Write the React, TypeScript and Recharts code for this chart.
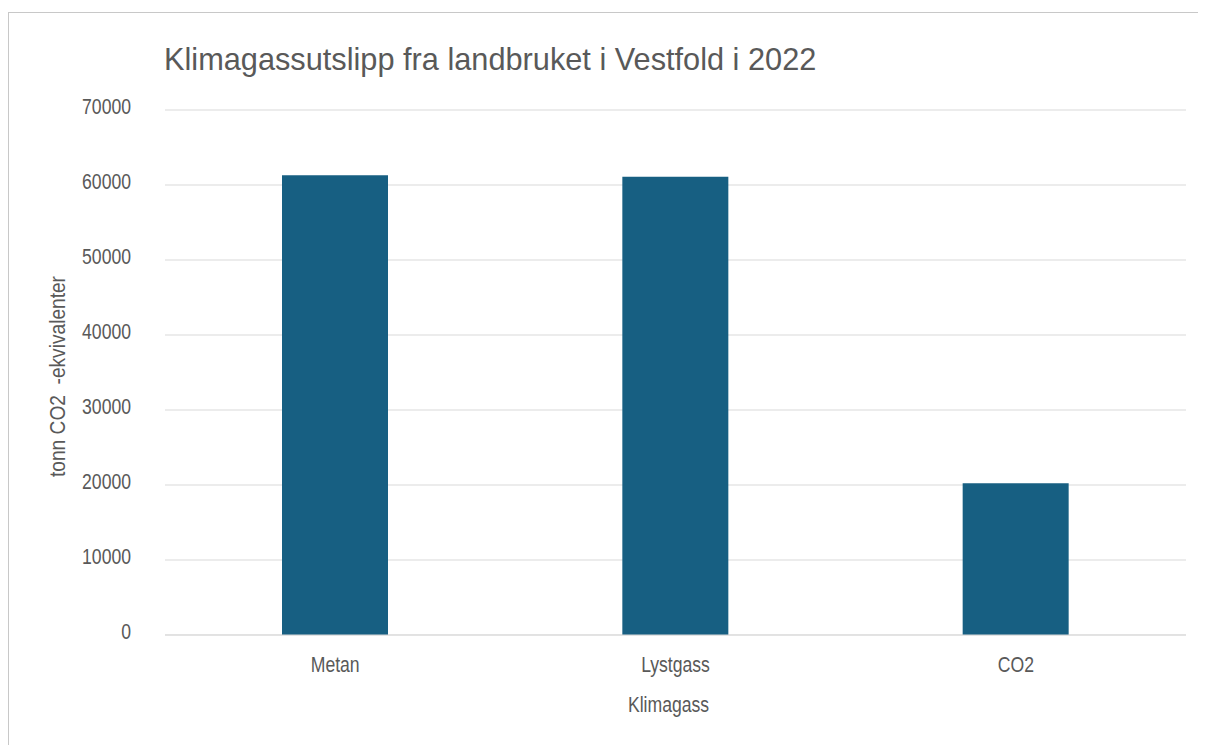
import { BarChart, Bar, XAxis, YAxis, CartesianGrid, Label } from 'recharts';

const categories = ['Metan', 'Lystgass', 'CO2'];
const utslipp = [61300, 61100, 20250];
const yTicks = [0, 10000, 20000, 30000, 40000, 50000, 60000, 70000];

const data = categories.map((name, i) => ({ name, value: utslipp[i] }));

const font = "'Liberation Sans', Arial, sans-serif";
const textColor = '#595959';
// the reference uses a narrow face, so squeeze the text sideways
const squeeze = 0.8;

const XTick = ({ x, y, payload }: any) => (
  <text
    transform={`translate(${x},${y + 37}) scale(${squeeze},1)`}
    textAnchor="middle"
    fill={textColor}
    fontSize={22}
    fontFamily={font}
  >
    {payload.value}
  </text>
);

const YTick = ({ x, y, payload }: any) => (
  <text
    transform={`translate(${x},${y + 4}) scale(${squeeze},1)`}
    textAnchor="end"
    fill={textColor}
    fontSize={22}
    fontFamily={font}
  >
    {payload.value}
  </text>
);

export default function App() {
  return (
    <div style={{ position: 'relative', width: 1198, height: 737, fontFamily: font }}>
      <div
        style={{
          position: 'absolute',
          left: 0,
          top: 4,
          width: 1196,
          height: 740,
          borderTop: '1px solid #c8c8c8',
          borderLeft: '1px solid #c8c8c8',
        }}
      />
      <div
        style={{
          position: 'absolute',
          left: 156,
          top: 33,
          fontSize: 32,
          lineHeight: 'normal',
          color: textColor,
          whiteSpace: 'nowrap',
          transform: 'scaleX(0.96)',
          transformOrigin: 'left top',
        }}
      >
        Klimagassutslipp fra landbruket i Vestfold i 2022
      </div>
      <BarChart
        width={1198}
        height={737}
        data={data}
        margin={{ top: 102, right: 20, left: 0, bottom: 40 }}
        style={{ position: 'absolute', left: 0, top: 0 }}
      >
        <CartesianGrid vertical={false} stroke="#d9d9d9" />
        <XAxis
          dataKey="name"
          height={70}
          tickSize={0}
          tickMargin={0}
          axisLine={{ stroke: '#d9d9d9' }}
          tick={<XTick />}
        >
          <Label
            content={({ viewBox }: any) => (
              <text
                transform={`translate(${viewBox.x + viewBox.width / 2 - 7},${viewBox.y + 77}) scale(${squeeze},1)`}
                textAnchor="middle"
                fill={textColor}
                fontSize={22}
                fontFamily={font}
              >
                Klimagass
              </text>
            )}
          />
        </XAxis>
        <YAxis
          width={157}
          domain={[0, 70000]}
          ticks={yTicks}
          tickSize={0}
          tickMargin={34}
          axisLine={false}
          tick={<YTick />}
        >
          <Label
            content={({ viewBox }: any) => (
              <text
                transform={`translate(57,${viewBox.y + viewBox.height / 2 + 4}) rotate(-90) scale(0.87,1)`}
                textAnchor="middle"
                fill={textColor}
                fontSize={22}
                fontFamily={font}
                style={{ whiteSpace: 'pre' }}
              >
                tonn CO2  -ekvivalenter
              </text>
            )}
          />
        </YAxis>
        <Bar dataKey="value" fill="#175f82" barSize={106} isAnimationActive={false} />
      </BarChart>
    </div>
  );
}
